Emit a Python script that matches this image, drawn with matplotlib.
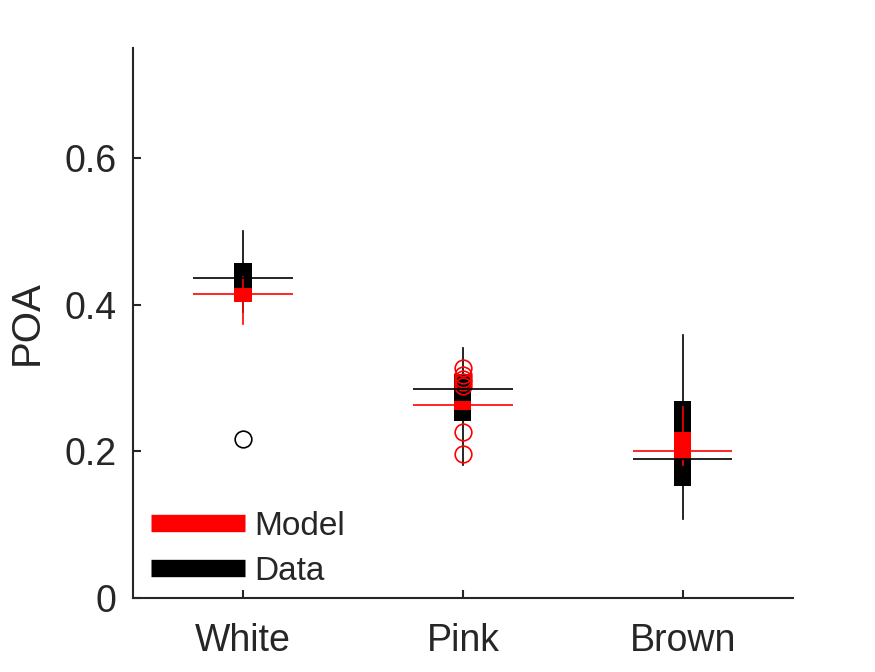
import matplotlib
matplotlib.use('Agg')
import matplotlib.pyplot as plt
from matplotlib.lines import Line2D

plt.rcParams['font.family'] = ['Liberation Sans', 'DejaVu Sans']

groups = ['White', 'Pink', 'Brown']

# data (black)
data_q1 = [0.405, 0.241, 0.153]
data_q3 = [0.457, 0.305, 0.268]
data_lo = [0.39, 0.182, 0.108]
data_hi = [0.500, 0.341, 0.358]
data_mean = [0.436, 0.285, 0.189]
data_out = [[0.217], [], []]

# model (red)
model_q1 = [0.403, 0.256, 0.190]
model_q3 = [0.423, 0.268, 0.226]
model_lo = [0.373, 0.256, 0.181]
model_hi = [0.437, 0.268, 0.260]
model_mean = [0.415, 0.263, 0.200]
model_out = [[], [0.314, 0.304, 0.299, 0.294, 0.289, 0.226, 0.196], []]

pos = [1, 2, 3]
txt = '#262626'


def stats(q1, q3, lo, hi, mean, out):
    return [dict(med=m, q1=a, q3=b, whislo=c, whishi=d, fliers=f)
            for a, b, c, d, m, f in zip(q1, q3, lo, hi, mean, out)]


fig = plt.figure(figsize=(8.75, 6.72), dpi=100)
ax = fig.add_axes([0.152, 0.110, 0.754, 0.819])

for st, col, mean in [(stats(data_q1, data_q3, data_lo, data_hi, data_mean, data_out), 'black', data_mean),
                      (stats(model_q1, model_q3, model_lo, model_hi, model_mean, model_out), 'red', model_mean)]:
    ax.bxp(st, positions=pos, widths=0.078, patch_artist=True, showcaps=False,
           boxprops=dict(facecolor=col, edgecolor='none'),
           whiskerprops=dict(color=col, linewidth=1.2),
           medianprops=dict(linewidth=0),
           flierprops=dict(marker='o', markerfacecolor='none', markeredgecolor=col,
                           markersize=12, markeredgewidth=1.2))
    ax.hlines(mean, [p - 0.226 for p in pos], [p + 0.226 for p in pos],
              colors=col, linewidth=1.2, zorder=3)

ax.set_xlim(0.5, 3.5)
ax.set_ylim(0, 0.75)
ax.set_xticks(pos)
ax.set_xticklabels(groups)
ax.set_yticks([0, 0.2, 0.4, 0.6])
ax.set_yticklabels(['0', '0.2', '0.4', '0.6'])
ax.set_ylabel('POA', fontsize=29, color=txt)
ax.yaxis.set_label_coords(-0.132, 0.5)

for s in ['top', 'right']:
    ax.spines[s].set_visible(False)
for s in ['left', 'bottom']:
    ax.spines[s].set_linewidth(1.5)
    ax.spines[s].set_color(txt)
ax.tick_params(direction='in', length=6, width=1.5, color=txt, labelsize=27, labelcolor=txt)
ax.tick_params(axis='x', pad=18)
ax.tick_params(axis='y', pad=12)

handles = [Line2D([], [], color='red', linewidth=12.5, solid_capstyle='butt'),
           Line2D([], [], color='black', linewidth=12.5, solid_capstyle='butt')]
ax.legend(handles, ['Model', 'Data'], loc='lower left', bbox_to_anchor=(0.007, -0.004),
          frameon=False, fontsize=24, handlelength=2.82, handletextpad=0.27,
          labelspacing=0.43, borderaxespad=0, labelcolor=txt)

fig.savefig('out.png', dpi=100)
